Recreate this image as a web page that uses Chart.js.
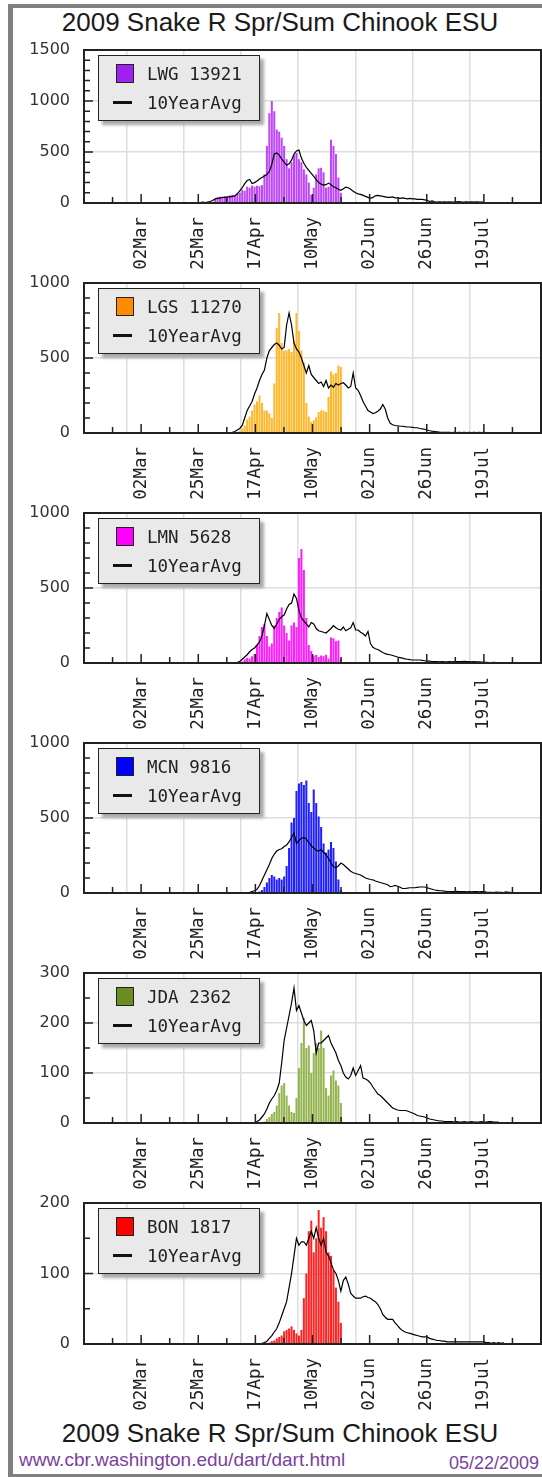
<!DOCTYPE html>
<html>
<head>
<meta charset="utf-8">
<script src="https://cdn.jsdelivr.net/npm/chart.js@4.4.0/dist/chart.umd.min.js"></script>
<style>
  html, body { margin: 0; padding: 0; background: #fff; }
  body { width: 542px; height: 1477px; position: relative; overflow: hidden; }
  #frame { position: absolute; left: 8px; top: 4px; width: 600px; height: 1473px; box-sizing: border-box;
           border-top: 4px solid #808080; border-left: 5px solid #808080; border-bottom: 3px solid #808080; }
  canvas { position: absolute; left: 14px; }
  .title { position: absolute; left: 0; width: 560px; text-align: center; font: 26px "Liberation Sans", Arial, sans-serif;
           line-height: 30px; color: #1a1a1a; white-space: nowrap; }
  .legend { position: absolute; left: 98px; width: 162px; height: 66px; box-sizing: border-box; background: #e9e9e9;
            border: 1.5px solid #222; box-shadow: 4px 4px 3px #a8a8a8; z-index: 2;
            font: 17.5px "DejaVu Sans Mono", monospace; color: #222; }
  .legend .sw { position: absolute; left: 17px; top: 8px; width: 18px; height: 19px; box-sizing: border-box; border: 1px solid #222; }
  .legend .ln { position: absolute; left: 14px; top: 45px; width: 19px; height: 3px; background: #111; }
  .legend .t { position: absolute; left: 48px; line-height: 20px; white-space: nowrap; }
  #url { position: absolute; left: 19px; top: 1449px; font: 19px "Liberation Sans", Arial, sans-serif; line-height: 22px; color: #7b3f9e; }
  #date { position: absolute; right: 3px; top: 1453px; font: 18px "Liberation Sans", Arial, sans-serif; line-height: 21px; color: #7b3f9e; }
</style>
</head>
<body>
<div id="frame"></div>
<div class="title" style="top:7px">2009 Snake R Spr/Sum Chinook ESU</div>
<div class="title" style="top:1418px">2009 Snake R Spr/Sum Chinook ESU</div>
<div id="url">www.cbr.washington.edu/dart/dart.html</div>
<div id="date">05/22/2009</div>

<script>
// stations, legend totals and colours
const stations = ['LWG', 'LGS', 'LMN', 'MCN', 'JDA', 'BON'];
const totals = [13921, 11270, 5628, 9816, 2362, 1817];
const legendColors = ['#a020f0', '#ff8c00', '#ff00ff', '#0000ff', '#6b8e23', '#ff0000'];
const barColors = ['#bd45fa', '#ffb82c', '#ff1cff', '#2020ff', '#94b450', '#ff2222'];

// y axis ranges per panel
const yMax = [1500, 1000, 1000, 1000, 300, 200];
const yMinor = [100, 100, 100, 100, 50, 50];
const yMajor = [500, 500, 500, 500, 100, 100];

// x axis tick labels (day of year for first and last)
const tickLabels = ['02Mar', '25Mar', '17Apr', '10May', '02Jun', '26Jun', '19Jul'];
const firstLabelDay = 61;
const lastLabelDay = 200;

// daily passage 2009, first value = day of year given by *Start
const lwgStart = 91;
const lwgCounts = [40, 55, 60, 50, 65, 60, 75, 80, 70, 90, 100, 130, 120, 160, 150, 170, 160, 170, 165, 175,
  280, 560, 880, 1000, 900, 720, 700, 640, 560, 430, 340, 400, 470, 490, 430, 400, 330, 280, 200, 80,
  150, 280, 340, 345, 300, 150, 160, 620, 560, 480, 250, 100];
const lgsStart = 100;
const lgsCounts = [5, 15, 30, 50, 90, 110, 150, 190, 210, 250, 200, 150, 150, 130, 100, 330, 700, 800, 600, 550,
  550, 560, 540, 610, 800, 680, 550, 470, 200, 110, 75, 85, 105, 140, 150, 150, 140, 240, 410, 390,
  400, 450, 440];
const lmnStart = 102;
const lmnCounts = [10, 25, 35, 30, 45, 60, 120, 180, 240, 260, 180, 110, 130, 250, 300, 340, 370, 250, 200, 150,
  250, 270, 240, 700, 760, 620, 300, 120, 80, 50, 55, 40, 50, 45, 55, 30, 170, 165, 145, 150, 30];
const mcnStart = 108;
const mcnCounts = [5, 10, 20, 40, 70, 100, 120, 110, 90, 100, 90, 110, 180, 300, 470, 500, 680, 730, 740, 720,
  750, 600, 540, 690, 600, 510, 440, 330, 270, 290, 340, 300, 210, 90, 20];
const jdaStart = 111;
const jdaCounts = [3, 8, 12, 18, 22, 35, 60, 75, 80, 55, 35, 22, 20, 50, 110, 160, 210, 150, 155, 100,
  140, 160, 150, 185, 150, 70, 55, 95, 105, 85, 75, 40];
const bonStart = 113;
const bonCounts = [2, 4, 5, 8, 10, 12, 18, 20, 22, 25, 20, 15, 12, 20, 65, 100, 160, 175, 130, 150,
  190, 165, 180, 160, 130, 125, 105, 80, 60, 30];

// 10 year average daily passage
const lwgAvgStart = 84;
const lwgAvg = [5, 3, 8, 5, 10, 15, 25, 40, 45, 50, 55, 55, 60, 60, 65, 70, 90, 120, 150, 190,
  220, 230, 190, 200, 215, 235, 250, 265, 280, 310, 380, 480, 490, 470, 430, 400, 370, 385, 420, 480,
  510, 520, 440, 390, 350, 320, 290, 260, 230, 200, 185, 175, 180, 195, 180, 160, 150, 135, 125, 140,
  155, 150, 135, 115, 100, 90, 85, 75, 65, 55, 45, 55, 70, 75, 70, 65, 60, 55, 55, 60,
  50, 50, 45, 50, 45, 40, 45, 40, 40, 35, 35, 35, 30, 25, 15, 20, 12, 10, 12, 10,
  11, 9, 12, 10, 8, 11, 13, 10, 9, 12, 10, 11, 9, 12, 10, 8, 10];
const lgsAvgStart = 96;
const lgsAvg = [2, 3, 5, 10, 20, 30, 50, 100, 150, 180, 210, 260, 300, 350, 390, 420, 500, 550, 570, 590,
  600, 585, 560, 570, 720, 800, 720, 600, 560, 540, 500, 450, 400, 450, 390, 370, 350, 330, 340, 310,
  350, 300, 320, 305, 330, 320, 330, 335, 320, 300, 310, 400, 300, 285, 250, 210, 180, 150, 140, 130,
  135, 145, 160, 190, 160, 100, 65, 55, 50, 48, 45, 45, 42, 40, 40, 38, 35, 35, 30, 28,
  25, 20, 15, 12, 10, 8, 6, 5, 4, 4, 4, 3, 4, 3, 4, 3, 4, 3, 4, 3, 4, 3, 4, 3, 4, 3, 3];
const lmnAvgStart = 99;
const lmnAvg = [2, 5, 10, 25, 40, 55, 75, 90, 100, 120, 140, 180, 250, 330, 290, 250, 230, 260, 290, 310,
  320, 360, 390, 400, 460, 430, 350, 300, 280, 260, 240, 270, 260, 230, 215, 210, 205, 200, 215, 230,
  250, 235, 225, 220, 240, 215, 225, 235, 270, 220, 220, 205, 195, 180, 210, 130, 105, 95, 90, 80,
  70, 62, 58, 55, 50, 45, 40, 36, 32, 28, 25, 22, 20, 20, 20, 20, 18, 15, 12, 12,
  10, 10, 9, 8, 9, 8, 8, 9, 8, 9, 10, 9, 10, 11, 10, 9, 8, 9, 8, 7, 6, 5, 5, 3, 2, 4, 2];
const mcnAvgStart = 104;
const mcnAvg = [2, 5, 10, 15, 25, 50, 85, 120, 155, 190, 230, 260, 280, 290, 295, 310, 320, 340, 370, 400,
  330, 350, 365, 370, 360, 335, 315, 300, 285, 280, 290, 270, 255, 230, 200, 175, 170, 180, 200, 190,
  175, 160, 145, 135, 130, 125, 120, 110, 100, 95, 90, 88, 80, 75, 70, 65, 60, 55, 42, 45,
  50, 45, 38, 30, 30, 32, 35, 35, 35, 38, 40, 40, 40, 35, 30, 25, 20, 18, 15, 15,
  12, 10, 10, 9, 10, 11, 10, 9, 10, 8, 9, 8, 10, 9, 8, 10, 10, 6, 4, 5, 3, 6, 4, 5, 3, 8, 4, 5];
const jdaAvgStart = 107;
const jdaAvg = [1, 3, 6, 12, 18, 28, 40, 48, 55, 65, 80, 120, 165, 190, 215, 240, 270, 225, 235, 220,
  205, 195, 200, 205, 185, 140, 160, 160, 165, 170, 175, 160, 150, 140, 125, 115, 100, 92, 88, 95,
  110, 95, 105, 115, 90, 88, 85, 80, 72, 65, 58, 55, 50, 45, 40, 35, 30, 28, 26, 25,
  25, 25, 24, 22, 20, 18, 15, 14, 13, 12, 10, 8, 7, 6, 5, 4, 4, 3, 3, 3,
  3, 2, 3, 2, 2, 3, 2, 2, 3, 2, 2, 2, 3, 2, 2, 3, 3, 2, 2, 2];
const bonAvgStart = 110;
const bonAvg = [1, 2, 4, 8, 12, 17, 22, 30, 40, 50, 60, 80, 100, 125, 150, 140, 145, 145, 140, 150,
  160, 150, 165, 150, 140, 150, 130, 125, 115, 105, 100, 90, 75, 90, 95, 85, 72, 68, 65, 65,
  65, 67, 68, 66, 65, 62, 60, 56, 50, 42, 38, 35, 35, 35, 30, 26, 22, 19, 17, 16,
  15, 14, 13, 12, 11, 10, 10, 10, 8, 7, 6, 5, 5, 4, 4, 3, 3, 3, 3, 3,
  3, 3, 3, 3, 3, 3, 3, 3, 3, 3, 3, 2, 2, 1, 2, 1, 2, 1, 2];

const countStarts = [lwgStart, lgsStart, lmnStart, mcnStart, jdaStart, bonStart];
const counts = [lwgCounts, lgsCounts, lmnCounts, mcnCounts, jdaCounts, bonCounts];
const avgStarts = [lwgAvgStart, lgsAvgStart, lmnAvgStart, mcnAvgStart, jdaAvgStart, bonAvgStart];
const avgs = [lwgAvg, lgsAvg, lmnAvg, mcnAvg, jdaAvg, bonAvg];

// page layout (pixels)
const plotTops = [50, 283, 513, 743, 973, 1203];
const plotBottoms = [203, 433, 663, 893, 1123, 1344];
const padTop = 10;
const xAxisHeight = 72;

// x ticks: labelled every 23 days, minor ticks half way
const halfStep = (lastLabelDay - firstLabelDay) / 12;
const axisMin = firstLabelDay - 2 * halfStep;
const axisMax = lastLabelDay + 2 * halfStep;
const xTickVals = [];
for (let k = 0; k <= 16; k++) xTickVals.push(axisMin + k * halfStep);
const isLabelTick = k => k % 2 === 0 && k >= 2 && k <= 14;

// frame + inward tick marks
const framePlugin = {
  id: 'frame',
  afterDatasetsDraw(chart) {
    const { ctx, chartArea: a, scales: { x, y } } = chart;
    const major = chart.options.plugins.frame.major;
    ctx.save();
    ctx.strokeStyle = '#222';
    ctx.lineWidth = 1.5;
    ctx.beginPath();
    x.ticks.forEach((t, k) => {
      const px = x.getPixelForValue(t.value);
      const len = k % 2 === 0 ? 9 : 6;
      ctx.moveTo(px, a.bottom);
      ctx.lineTo(px, a.bottom - len);
    });
    y.ticks.forEach(t => {
      const py = y.getPixelForValue(t.value);
      const len = t.value % major === 0 ? 9 : 6;
      ctx.moveTo(a.left, py);
      ctx.lineTo(a.left + len, py);
    });
    ctx.stroke();
    ctx.lineWidth = 2;
    ctx.strokeRect(a.left, a.top, a.right - a.left, a.bottom - a.top);
    ctx.restore();
  }
};

function makePanel(i) {
  const plotH = plotBottoms[i] - plotTops[i];
  const canvas = document.createElement('canvas');
  canvas.width = 528;
  canvas.height = padTop + plotH + xAxisHeight;
  canvas.style.top = (plotTops[i] - padTop) + 'px';
  document.body.appendChild(canvas);

  const barPts = counts[i].map((v, d) => ({ x: countStarts[i] + d, y: v }));
  const avgPts = avgs[i].map((v, d) => ({ x: avgStarts[i] + d, y: v }));
  const major = yMajor[i];

  new Chart(canvas.getContext('2d'), {
    type: 'bar',
    data: {
      datasets: [{
        type: 'line',
        label: '10YearAvg',
        data: avgPts,
        borderColor: '#000',
        borderWidth: 1.2,
        pointRadius: 0,
        tension: 0,
        order: 0
      }, {
        type: 'bar',
        label: stations[i] + ' ' + totals[i],
        data: barPts,
        backgroundColor: barColors[i],
        barPercentage: 0.82,
        categoryPercentage: 1,
        order: 1
      }]
    },
    options: {
      responsive: false,
      animation: false,
      devicePixelRatio: 1,
      layout: { padding: { top: padTop, right: 1, left: 0, bottom: 0 } },
      plugins: { legend: { display: false }, tooltip: { enabled: false }, frame: { major: major } },
      scales: {
        x: {
          type: 'linear',
          min: axisMin,
          max: axisMax,
          offset: false,
          afterBuildTicks: axis => { axis.ticks = xTickVals.map(v => ({ value: v })); },
          afterFit: axis => {
            axis.height = xAxisHeight;
            axis.paddingLeft = 0;
            axis.paddingRight = 0;
          },
          ticks: {
            autoSkip: false,
            minRotation: 90,
            maxRotation: 90,
            padding: 14,
            color: '#222',
            font: { family: '"DejaVu Sans Mono", monospace', size: 17.5 },
            callback: (v, k) => isLabelTick(k) ? tickLabels[k / 2 - 1] : ''
          },
          grid: {
            drawTicks: false,
            lineWidth: 1.5,
            color: c => isLabelTick(c.index) ? '#dedede' : 'rgba(0,0,0,0)'
          },
          border: { display: false }
        },
        y: {
          min: 0,
          max: yMax[i],
          afterBuildTicks: axis => {
            axis.ticks = [];
            for (let v = 0; v <= yMax[i]; v += yMinor[i]) axis.ticks.push({ value: v });
          },
          afterFit: axis => {
            axis.width = 70;
            axis.paddingTop = 0;
            axis.paddingBottom = 0;
          },
          ticks: {
            autoSkip: false,
            padding: 14,
            color: '#333',
            font: { family: '"DejaVu Sans", sans-serif', size: 16 },
            callback: v => v % major === 0 ? String(v) : ''
          },
          grid: {
            drawTicks: false,
            lineWidth: 1.5,
            color: c => (c.tick && c.tick.value % major === 0) ? '#dedede' : 'rgba(0,0,0,0)'
          },
          border: { display: false }
        }
      }
    },
    plugins: [framePlugin]
  });

  // legend box
  const box = document.createElement('div');
  box.className = 'legend';
  box.style.top = (plotTops[i] + 5) + 'px';
  box.innerHTML =
    '<div class="sw" style="background:' + legendColors[i] + '"></div>' +
    '<div class="t" style="top:8px">' + stations[i] + ' ' + totals[i] + '</div>' +
    '<div class="ln"></div>' +
    '<div class="t" style="top:37px">10YearAvg</div>';
  document.body.appendChild(box);
}

for (let i = 0; i < stations.length; i++) makePanel(i);
</script>
</body>
</html>
